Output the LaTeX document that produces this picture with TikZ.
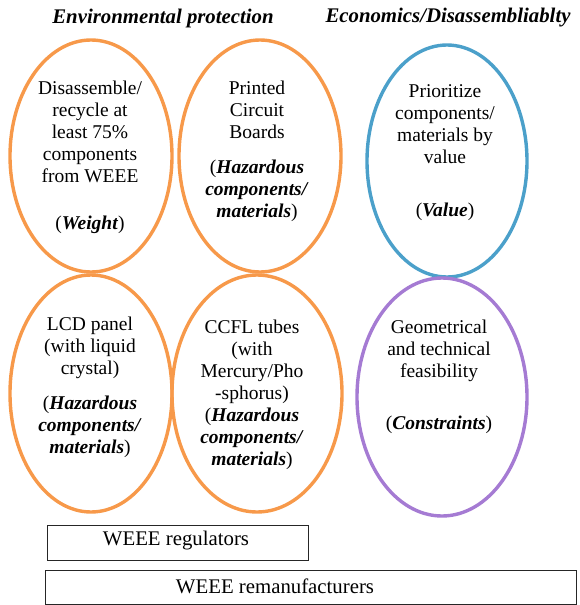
\documentclass[tikz,border=0pt]{standalone}
\usepackage{fontspec}
\setmainfont{Liberation Serif}
\usetikzlibrary{shapes.geometric}
\definecolor{envorange}{HTML}{F7994A}
\definecolor{valblue}{HTML}{4BA0CA}
\definecolor{conpurple}{HTML}{A57BD3}
\newcommand{\bi}[1]{\textbf{\textit{#1}}}
\begin{document}
\begin{tikzpicture}[x=1pt,y=-1pt,
  oval/.style={ellipse,draw,line width=3.4pt,inner sep=0pt},
  txt/.style={align=center,inner sep=0pt,font=\fontsize{19.5}{22}\selectfont},
  bartxt/.style={inner sep=0pt,font=\fontsize{20.8}{22}\selectfont},
  heading/.style={inner sep=0pt,font=\fontsize{20.8}{22}\selectfont\bfseries\itshape},
  bar/.style={draw=black!85,line width=1pt}
]
\useasboundingbox (0,0) rectangle (579,605);

% column headings
\node[heading] (hEnv) at (163,18) {Environmental protection};
\node[heading] (hEco) at (448,18) {Economics/Disassembliablty};

% environmental ellipses
\node[oval,draw=envorange,minimum width=162pt,minimum height=232pt] (eWeight) at (91,156) {};
\node[oval,draw=envorange,minimum width=162pt,minimum height=232pt] (ePCB) at (260,156) {};
\node[oval,draw=envorange,minimum width=162pt,minimum height=237pt] (eLCD) at (91,393.5) {};
\node[oval,draw=envorange,minimum width=170pt,minimum height=237pt] (eCCFL) at (257,393.5) {};

% economics ellipses
\node[oval,draw=valblue,minimum width=160pt,minimum height=232pt] (eValue) at (447,161) {};
\node[oval,draw=conpurple,minimum width=170pt,minimum height=238pt] (eCons) at (442,397) {};

% ellipse texts
\node[txt] (tWeight) at (90,157.5) {Disassemble/\\recycle at\\least 75\%\\components\\from WEEE\\[25pt](\bi{Weight})};
\node[txt] (tPCB) at (257,151.5) {Printed\\Circuit\\Boards\\[13pt](\bi{Hazardous}\\\bi{components/}\\\bi{materials})};
\node[txt] (tLCD) at (90,387.5) {LCD panel\\(with liquid\\crystal)\\[13pt](\bi{Hazardous}\\\bi{components/}\\\bi{materials})};
\node[txt] (tCCFL) at (252,394.5) {CCFL tubes\\(with\\Mercury/Pho\\-sphorus)\\(\bi{Hazardous}\\\bi{components/}\\\bi{materials})};
\node[txt] (tValue) at (445,153) {Prioritize\\components/\\materials by\\value\\[31pt](\bi{Value})};
\node[txt] (tCons) at (439,376.5) {Geometrical\\and technical\\feasibility\\[30pt](\bi{Constraints})};

% stakeholder bars
\draw[bar] (47,525) rectangle (308,560);
\node[bartxt] (tReg) at (176,541) {WEEE regulators};
\draw[bar] (45,570) rectangle (576,604);
\node[bartxt] (tRem) at (275,586) {WEEE remanufacturers};
\end{tikzpicture}
\end{document}
